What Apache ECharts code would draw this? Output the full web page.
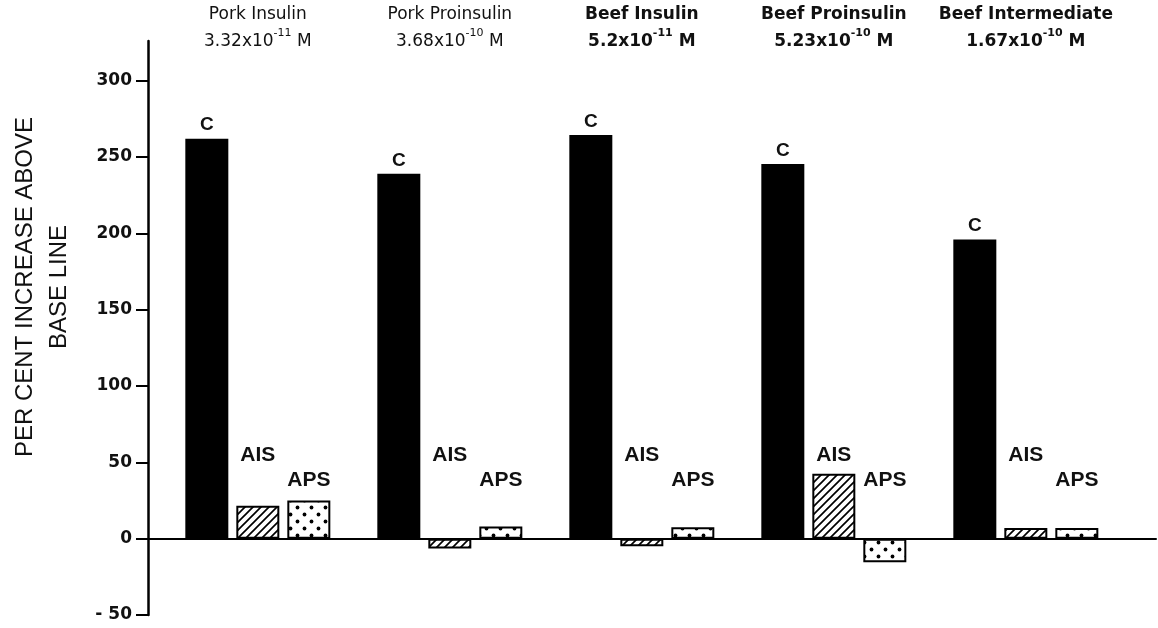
<!DOCTYPE html>
<html>
<head>
<meta charset="utf-8">
<script src="https://cdn.jsdelivr.net/npm/echarts@6/dist/echarts.min.js"></script>
<style>
  html, body { margin: 0; padding: 0; background: #fff; }
  #chart { width: 1158px; height: 628px; }
</style>
</head>
<body>
<div id="chart"></div>
<script>
// Hormone preparations and their concentrations
const categories = ['Pork Insulin', 'Pork Proinsulin', 'Beef Insulin', 'Beef Proinsulin', 'Beef Intermediate'];
const concMantissa = ['3.32', '3.68', '5.2', '5.23', '1.67'];
const concExponent = ['-11', '-10', '-11', '-10', '-10'];

// Per cent increase above base line: control (C), with anti-insulin serum (AIS),
// with anti-proinsulin serum (APS)
const controlValues = [262, 239, 264.5, 245.5, 196];
const aisValues = [21.5, -6.5, -5, 42.5, 7];
const apsValues = [25, 8, 7.5, -15.5, 7];

// Y axis tick values
const yTicks = [-50, 0, 50, 100, 150, 200, 250, 300];

// Layout / style constants
const BAR_WIDTH = 43;
const BAR_GAP_PX = 8;
const BAR_STEP = BAR_WIDTH + BAR_GAP_PX;
const AIS_LABEL_LEVEL = 55;
const APS_LABEL_LEVEL = 38;
const TICK_LEN = 12;
const INK = '#111';

function hatchPattern() {
  const c = document.createElement('canvas');
  c.width = 8; c.height = 8;
  const g = c.getContext('2d');
  g.fillStyle = '#fff';
  g.fillRect(0, 0, 8, 8);
  g.strokeStyle = '#000';
  g.lineWidth = 1.7;
  g.beginPath();
  g.moveTo(-2, 10); g.lineTo(10, -2);
  g.moveTo(-2, 2); g.lineTo(2, -2);
  g.moveTo(6, 10); g.lineTo(10, 6);
  g.stroke();
  return c;
}

function dotPattern() {
  const c = document.createElement('canvas');
  c.width = 14; c.height = 14;
  const g = c.getContext('2d');
  g.fillStyle = '#fff';
  g.fillRect(0, 0, 14, 14);
  g.fillStyle = '#000';
  [[3.5, 3.5], [10.5, 10.5]].forEach(([x, y]) => {
    g.beginPath();
    g.arc(x, y, 1.9, 0, Math.PI * 2);
    g.fill();
  });
  return c;
}

const xExtent = { min: -0.572, max: 4.678 };
const toPairs = arr => arr.map((v, i) => [i, v]);

const chart = echarts.init(document.getElementById('chart'), null, { renderer: 'canvas' });

const option = {
  backgroundColor: '#fff',
  animation: false,
  grid: { left: 146, right: 2, top: 41, bottom: 13 },
  xAxis: [
    {
      type: 'value',
      min: xExtent.min,
      max: xExtent.max,
      axisLine: { show: true, onZero: true, lineStyle: { color: '#000', width: 2 } },
      axisTick: { show: false },
      axisLabel: { show: false },
      splitLine: { show: false }
    },
    {
      type: 'value',
      position: 'top',
      min: xExtent.min,
      max: xExtent.max,
      axisLine: { show: false, onZero: false },
      axisTick: { show: false },
      splitLine: { show: false },
      axisLabel: {
        customValues: [0, 1, 2, 3, 4],
        margin: -14,
        formatter: v => {
          const i = Math.round(v);
          const b = categories[i].startsWith('Beef') ? 'b' : '';
          return `{t${b}|${categories[i]}}\n{t${b}|${concMantissa[i]}x10}{s${b}|${concExponent[i]}}{t${b}| M}`;
        },
        rich: {
          t: { fontFamily: 'DejaVu Sans', fontSize: 17, lineHeight: 27, color: INK },
          tb: { fontFamily: 'DejaVu Sans', fontWeight: 'bold', fontSize: 17, lineHeight: 27, color: INK },
          s: { fontFamily: 'DejaVu Sans', fontSize: 11, lineHeight: 18, verticalAlign: 'top', color: INK },
          sb: { fontFamily: 'DejaVu Sans', fontWeight: 'bold', fontSize: 11, lineHeight: 18, verticalAlign: 'top', color: INK }
        }
      }
    }
  ],
  yAxis: {
    type: 'value',
    min: -50,
    max: 326,
    name: 'PER CENT INCREASE ABOVE\nBASE LINE',
    nameLocation: 'middle',
    nameRotate: 90,
    nameGap: 72,
    nameTextStyle: {
      fontFamily: 'Liberation Sans',
      fontSize: 24,
      lineHeight: 34,
      color: INK,
      padding: [0, 0, 0, 82]
    },
    axisLine: { show: true, onZero: false, lineStyle: { color: '#000', width: 2.5 } },
    axisTick: { show: true, customValues: yTicks, length: TICK_LEN, lineStyle: { color: '#000', width: 2 } },
    axisLabel: {
      customValues: yTicks,
      margin: TICK_LEN + 4,
      fontFamily: 'DejaVu Sans',
      fontWeight: 'bold',
      fontSize: 17,
      color: INK,
      formatter: v => (v < 0 ? '- ' + Math.abs(v) : String(v))
    },
    splitLine: { show: false }
  },
  series: [
    {
      name: 'C',
      type: 'bar',
      data: toPairs(controlValues),
      barWidth: BAR_WIDTH,
      barGap: (BAR_GAP_PX / BAR_WIDTH * 100) + '%',
      itemStyle: { color: '#000' },
      label: {
        show: true,
        position: 'top',
        distance: 4,
        formatter: 'C',
        fontFamily: 'Liberation Sans',
        fontWeight: 'bold',
        fontSize: 19,
        color: INK
      }
    },
    {
      name: 'AIS',
      type: 'bar',
      data: toPairs(aisValues),
      barWidth: BAR_WIDTH,
      itemStyle: { color: { image: hatchPattern(), repeat: 'repeat' }, borderColor: '#000', borderWidth: 2 }
    },
    {
      name: 'APS',
      type: 'bar',
      data: toPairs(apsValues),
      barWidth: BAR_WIDTH,
      itemStyle: { color: { image: dotPattern(), repeat: 'repeat' }, borderColor: '#000', borderWidth: 2 }
    },
    {
      // Treatment labels placed over the AIS and APS bars
      type: 'custom',
      silent: true,
      data: categories.map((_, i) => [i, 0]),
      encode: { x: 0, y: 1 },
      renderItem: (params, api) => {
        const i = api.value(0);
        const ais = api.coord([i, AIS_LABEL_LEVEL]);
        const aps = api.coord([i, APS_LABEL_LEVEL]);
        const font = 'bold 21px "Liberation Sans"';
        return {
          type: 'group',
          children: [
            { type: 'text', x: ais[0], y: ais[1],
              style: { text: 'AIS', font, fill: INK, align: 'center', verticalAlign: 'middle' } },
            { type: 'text', x: aps[0] + BAR_STEP, y: aps[1],
              style: { text: 'APS', font, fill: INK, align: 'center', verticalAlign: 'middle' } }
          ]
        };
      }
    }
  ]
};

chart.setOption(option);
</script>
</body>
</html>
